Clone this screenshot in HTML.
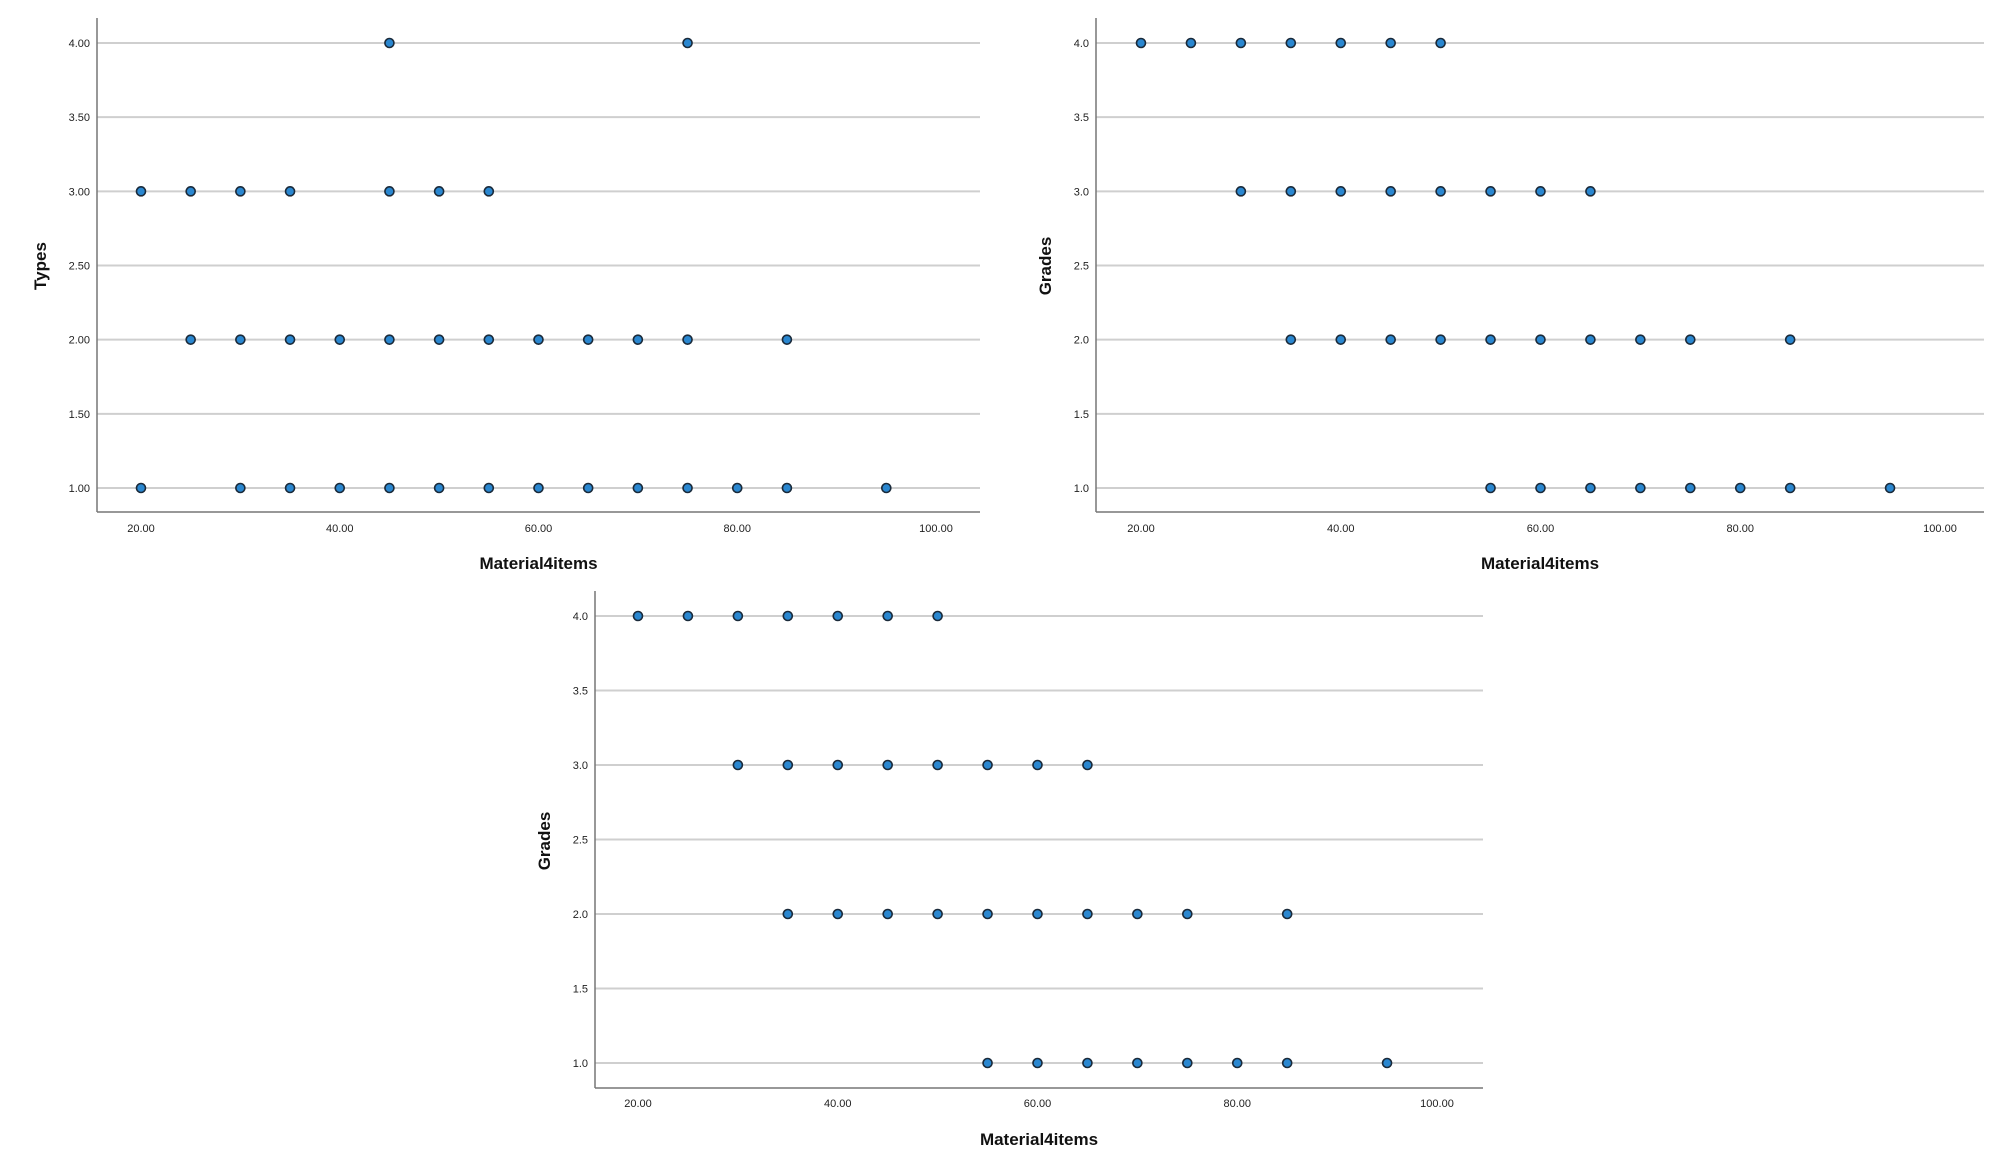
<!DOCTYPE html>
<html><head><meta charset="utf-8"><style>
html,body{margin:0;padding:0;background:#fff}
svg{display:block}
text{font-family:"Liberation Sans",sans-serif}
</style></head><body>
<svg id="c" width="2010" height="1158" viewBox="0 0 2010 1158" xmlns="http://www.w3.org/2000/svg"></svg>
<script>
// Chart 1: Types vs Material4items
const typesY4 = [45,75];
const typesY3 = [20,25,30,35,45,50,55];
const typesY2 = [25,30,35,40,45,50,55,60,65,70,75,85];
const typesY1 = [20,30,35,40,45,50,55,60,65,70,75,80,85,95];
const typesTicks = ["1.00","1.50","2.00","2.50","3.00","3.50","4.00"];
// Charts 2 & 3: Grades vs Material4items
const gradesY4 = [20,25,30,35,40,45,50];
const gradesY3 = [30,35,40,45,50,55,60,65];
const gradesY2 = [35,40,45,50,55,60,65,70,75,85];
const gradesY1 = [55,60,65,70,75,80,85,95];
const gradesTicks = ["1.0","1.5","2.0","2.5","3.0","3.5","4.0"];
const yTickValues = [1,1.5,2,2.5,3,3.5,4];
const xTickValues = [20,40,60,80,100];
const xTickLabels = ["20.00","40.00","60.00","80.00","100.00"];

const NS="http://www.w3.org/2000/svg";
const svg=document.getElementById('c');
function mk(tag,attrs,parent){const e=document.createElementNS(NS,tag);for(const k in attrs)e.setAttribute(k,attrs[k]);(parent||svg).appendChild(e);return e;}

function chart(id,L,R,x20,x100,top,y1,y4,axisY,tickLblY,titleY,yTitleX,yTitleY,yTitle,yTicks,series){
  const g=mk('g',{});
  
  
  const sx=v=>x20+(v-20)*(x100-x20)/80;
  const sy=v=>y1-(v-1)*(y1-y4)/3;
  yTickValues.forEach((v,i)=>{
    const ln=mk('line',{x1:L,x2:R,y1:sy(v),y2:sy(v),stroke:'#cfcfcf','stroke-width':2},g);
    
    
    const t=mk('text',{x:L-7,y:sy(v)+4,'text-anchor':'end','font-size':11,fill:'#222'},g);
    t.textContent=yTicks[i];
    
    
  });
  const ya=mk('line',{x1:L,x2:L,y1:top,y2:axisY,stroke:'#777','stroke-width':1.5},g);
  
  
  const xa=mk('line',{x1:L,x2:R,y1:axisY,y2:axisY,stroke:'#777','stroke-width':1.5},g);
  
  
  xTickValues.forEach((v,i)=>{
    const t=mk('text',{x:sx(v),y:tickLblY+4,'text-anchor':'middle','font-size':11,fill:'#222'},g);
    t.textContent=xTickLabels[i];
    
    
  });
  const xt=mk('text',{x:(L+R)/2,y:titleY+6,'text-anchor':'middle','font-size':17,'font-weight':'bold',fill:'#111'},g);
  xt.textContent='Material4items';
  
  
  const yt=mk('text',{x:0,y:0,'text-anchor':'middle','font-size':17,'font-weight':'bold',fill:'#111',transform:`translate(${yTitleX+6},${yTitleY}) rotate(-90)`},g);
  yt.textContent=yTitle;
  
  
  series.forEach(([yv,xs])=>{
    xs.forEach(xv=>{
      const c=mk('circle',{cx:sx(xv),cy:sy(yv),r:4.5,fill:'#2a87d0',stroke:'#1a2a3a','stroke-width':1.6},g);
      
      
    });
  });
}
chart('chart-types',97,980,141,936,18,488,43,512,528,563,40,266,'Types',typesTicks,
  [[4,typesY4],[3,typesY3],[2,typesY2],[1,typesY1]]);
chart('chart-grades-top',1096,1984,1141,1940,18,488,43,512,528,563,1045,266,'Grades',gradesTicks,
  [[4,gradesY4],[3,gradesY3],[2,gradesY2],[1,gradesY1]]);
chart('chart-grades-bottom',595,1483,638,1437,591,1063,616,1088,1103,1139,544,841,'Grades',gradesTicks,
  [[4,gradesY4],[3,gradesY3],[2,gradesY2],[1,gradesY1]]);
</script>
</body></html>
